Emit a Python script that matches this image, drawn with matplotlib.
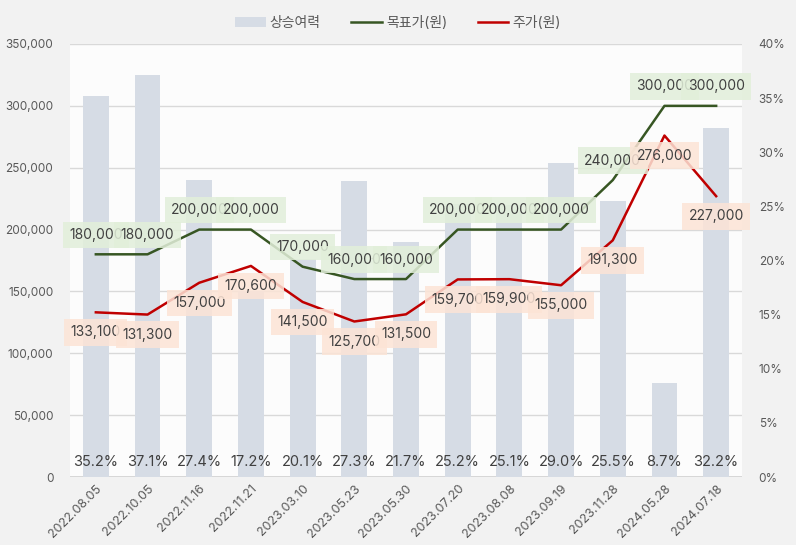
import numpy as np
import matplotlib
matplotlib.use('Agg')
import matplotlib.pyplot as plt
from matplotlib.patches import Patch
from matplotlib.lines import Line2D
import matplotlib.transforms as mtransforms

plt.rcParams['font.family'] = ['Inter', 'Noto Sans CJK KR', 'DejaVu Sans']

# ── 데이터 ──────────────────────────────────────────────
dates = ['2022.08.05', '2022.10.05', '2022.11.16', '2022.11.21', '2023.03.10',
         '2023.05.23', '2023.05.30', '2023.07.20', '2023.08.08', '2023.09.19',
         '2023.11.28', '2024.05.28', '2024.07.18']
target = [180000, 180000, 200000, 200000, 170000, 160000, 160000,
          200000, 200000, 200000, 240000, 300000, 300000]
price = [133100, 131300, 157000, 170600, 141500, 125700, 131500,
         159700, 159900, 155000, 191300, 276000, 227000]
upside = [35.2, 37.1, 27.4, 17.2, 20.1, 27.3, 21.7, 25.2, 25.1, 29.0, 25.5, 8.7, 32.2]

BG = '#f2f2f2'
PLOT_BG = '#fcfcfc'
BAR = '#d6dce5'
GREEN = '#375623'
RED = '#c00000'
TXT = '#404040'
TICK = '#595959'

YMAX = 350000
PMAX = 40

fig = plt.figure(figsize=(7.96, 5.45), dpi=100, facecolor=BG)
ax = fig.add_axes([70/796, 1 - 477/545, 672/796, 433/545])
ax2 = ax.twinx()

x = np.arange(len(dates))

# 막대 (오른쪽 축) - 배경/격자는 여기에
ax2.set_zorder(0)
ax.set_zorder(1)
ax.patch.set_visible(False)
ax2.patch.set_visible(True)
ax2.patch.set_facecolor(PLOT_BG)
# 왼쪽 축 눈금 위치의 격자선을 막대 뒤에
for g in range(50000, YMAX + 1, 50000):
    ax2.axhline(g / YMAX * PMAX, color='#d9d9d9', lw=1, zorder=0)
ax2.axhline(0, color='#d0d0d0', lw=1.2, zorder=0)
ax2.bar(x, upside, width=0.5, color=BAR, zorder=2)
ax2.set_ylim(0, PMAX)
ax2.set_yticks(np.arange(0, PMAX + 1, 5))
ax2.set_yticklabels([f'{v}%' for v in range(0, PMAX + 1, 5)])

# 상승여력 라벨
trans = mtransforms.blended_transform_factory(ax2.transData, ax2.transAxes)
for xi, v in zip(x, upside):
    ax2.text(xi, 0.035, f'{v:.1f}%', transform=trans, ha='center', va='center',
             fontsize=10.5, color=TXT, zorder=5)

# 선 (왼쪽 축)
ax.plot(x, target, color=GREEN, lw=1.8, zorder=3)
ax.plot(x, price, color=RED, lw=1.8, zorder=3)
ax.set_ylim(0, YMAX)
ax.set_xlim(-0.5, len(dates) - 0.5)
ax.set_yticks(np.arange(0, YMAX + 1, 50000))
ax.set_yticklabels([f'{v:,}' for v in range(0, YMAX + 1, 50000)])

for xi, v in zip(x, target):
    ax.annotate(f'{v:,}', (xi, v), xytext=(0, 14), textcoords='offset points',
                ha='center', va='center', fontsize=10, color=TXT, zorder=6,
                bbox=dict(boxstyle='square,pad=0.45', fc='#e2efda', ec='none', alpha=0.85))
for xi, v in zip(x, price):
    ax.annotate(f'{v:,}', (xi, v), xytext=(0, -14.5), textcoords='offset points',
                ha='center', va='center', fontsize=10, color=TXT, zorder=6,
                bbox=dict(boxstyle='square,pad=0.45', fc='#fce4d6', ec='none', alpha=0.85))

ax.set_xticks(x)
ax.set_xticklabels(dates, rotation=45, ha='right', rotation_mode='anchor')

for a in (ax, ax2):
    for sp in a.spines.values():
        sp.set_visible(False)
    a.tick_params(length=0, colors=TICK, labelsize=8.5)
ax.tick_params(axis='y', pad=12)
ax2.tick_params(axis='y', pad=12)
ax.tick_params(axis='x', pad=4, labelsize=9)

# 범례
handles = [Patch(facecolor=BAR, edgecolor='none'),
           Line2D([], [], color=GREEN, lw=1.8),
           Line2D([], [], color=RED, lw=1.8)]
fig.legend(handles, ['상승여력', '목표가(원)', '주가(원)'], loc='center',
           bbox_to_anchor=(0.5, 1 - 23/545), ncol=3, frameon=False,
           fontsize=10, labelcolor=TICK, handlelength=2.2, columnspacing=2.2,
           handletextpad=0.3)

fig.savefig('out.png', dpi=100, facecolor=BG)
